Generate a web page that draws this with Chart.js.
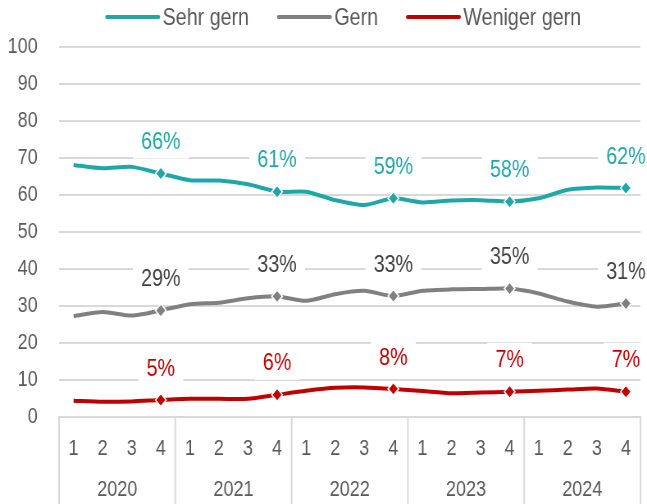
<!DOCTYPE html>
<html>
<head>
<meta charset="utf-8">
<script src="https://cdn.jsdelivr.net/npm/chart.js@4/dist/chart.umd.min.js"></script>
<style>
  html, body { margin: 0; padding: 0; background: #fff; overflow: hidden; width: 647px; height: 504px; }
  /* Arial Narrow ist nicht installiert: Liberation Sans horizontal auf 82 % stauchen */
  #wrap { width: 789px; height: 504px; transform: scaleX(0.82003); transform-origin: 0 0; }
</style>
</head>
<body>
<div id="wrap"><canvas id="chart"></canvas></div>
<script>
// Daten (Quartale 2020-2024)
const years = ['2020', '2021', '2022', '2023', '2024'];
const quarters = ['1', '2', '3', '4'];
const yTicks = [0, 10, 20, 30, 40, 50, 60, 70, 80, 90, 100];

const sehrGern = [68.1, 67.2, 67.6, 65.8, 64.0, 63.9, 62.9, 60.9, 60.9, 58.6, 57.3, 59.1, 58.0, 58.5, 58.6, 58.2, 59.1, 61.4, 62.0, 61.9];
const gern = [27.3, 28.4, 27.4, 28.8, 30.5, 30.9, 32.1, 32.6, 31.4, 33.2, 34.1, 32.7, 34.1, 34.5, 34.6, 34.7, 33.4, 31.2, 29.8, 30.7];
const wenigerGern = [4.4, 4.1, 4.2, 4.6, 4.9, 4.9, 4.9, 6.0, 7.1, 7.9, 8.0, 7.6, 7.0, 6.4, 6.6, 6.8, 7.1, 7.4, 7.7, 6.8];

const labels = years.flatMap(() => quarters);

const FONT = "'Liberation Sans', Arial, sans-serif";
const TEAL = '#1fa7a7';
const GRAY = '#808080';
const RED = '#c00000';
const GRID = '#d9d9d9';
const TEXT = '#595959';

// nur Q4 bekommt eine Raute
const q4Radius = ctx => (ctx.dataIndex % 4 === 3 ? 6.5 : 0);

function series(label, data, color, textColor) {
  return {
    label,
    data,
    borderColor: color,
    backgroundColor: color,
    borderWidth: 4,
    tension: 0.25,
    pointStyle: 'rectRot',
    pointRadius: q4Radius,
    pointHoverRadius: q4Radius,
    pointBorderColor: '#fff',
    pointBorderWidth: 1.5,
    pointBackgroundColor: color,
    labelColor: textColor,
  };
}

// Prozentwerte über den Q4-Punkten, mit weißem Hintergrund
const valueLabels = {
  id: 'valueLabels',
  beforeDatasetsDraw(chart) {
    const ctx = chart.ctx;
    ctx.save();
    ctx.font = '24px ' + FONT;
    ctx.textAlign = 'center';
    ctx.textBaseline = 'middle';
    chart.data.datasets.forEach((ds, i) => {
      const meta = chart.getDatasetMeta(i);
      meta.data.forEach((pt, j) => {
        if (j % 4 !== 3) return;
        const text = Math.round(ds.data[j]) + '%';
        const w = ctx.measureText(text).width;
        const y = pt.y - 32;
        ctx.fillStyle = '#fff';
        ctx.fillRect(pt.x - w / 2 - 10, y - 17, w + 20, 34);
        ctx.fillStyle = ds.labelColor;
        ctx.fillText(text, pt.x, y + 1);
      });
    });
    ctx.restore();
  }
};

// Legende oben: Linie + Text, etwa über der Zeichenfläche zentriert
const lineLegend = {
  id: 'lineLegend',
  afterDraw(chart) {
    const ctx = chart.ctx;
    const lineLen = 67, gap = 3, spacing = 34, y = 17;
    ctx.save();
    ctx.font = '24px ' + FONT;
    ctx.textBaseline = 'middle';
    const items = chart.data.datasets.map(ds => ({ ds, w: ctx.measureText(ds.label).width }));
    const total = items.reduce((s, it) => s + lineLen + gap + it.w, 0) + spacing * (items.length - 1);
    let x = (chart.chartArea.left + chart.chartArea.right) / 2 - total / 2 - 8;
    items.forEach(({ ds, w }) => {
      ctx.strokeStyle = ds.borderColor;
      ctx.lineWidth = 4;
      ctx.lineCap = 'round';
      ctx.beginPath();
      ctx.moveTo(x + 2, y);
      ctx.lineTo(x + lineLen - 2, y);
      ctx.stroke();
      ctx.fillStyle = TEXT;
      ctx.fillText(ds.label, x + lineLen + gap, y + 1);
      x += lineLen + gap + w + spacing;
    });
    ctx.restore();
  }
};

// senkrechte Trennlinien zwischen den Jahren unter der Achse
const yearSeparators = {
  id: 'yearSeparators',
  afterDraw(chart) {
    const xs = chart.scales.x;
    const ctx = chart.ctx;
    const n = chart.data.labels.length;
    ctx.save();
    ctx.strokeStyle = GRID;
    ctx.lineWidth = 2;
    for (let b = 0; b <= n; b += quarters.length) {
      let px;
      if (b === 0) px = xs.left;
      else if (b === n) px = xs.right;
      else px = (xs.getPixelForValue(b - 1) + xs.getPixelForValue(b)) / 2;
      ctx.beginPath();
      ctx.moveTo(px, chart.chartArea.bottom);
      ctx.lineTo(px, chart.height);
      ctx.stroke();
    }
    ctx.restore();
  }
};

new Chart(document.getElementById('chart'), {
  type: 'line',
  data: {
    labels,
    datasets: [
      series('Sehr gern', sehrGern, TEAL, TEAL),
      series('Gern', gern, GRAY, '#404040'),
      series('Weniger gern', wenigerGern, RED, RED),
    ],
  },
  options: {
    responsive: true,
    maintainAspectRatio: false,
    animation: false,
    layout: { padding: { left: 0, right: 5, top: 47, bottom: 0 } },
    plugins: {
      legend: { display: false },
      tooltip: { enabled: false },
    },
    scales: {
      y: {
        min: 0,
        max: 100,
        afterBuildTicks: scale => { scale.ticks = yTicks.map(v => ({ value: v })); },
        afterFit: scale => { scale.width = 72; },
        grid: { color: GRID, lineWidth: 2, drawTicks: false },
        border: { display: false },
        ticks: {
          color: TEXT,
          padding: 26,
          font: { family: FONT, size: 22 },
        },
      },
      x: {
        offset: true,
        afterFit: scale => { scale.height = 46; },
        grid: { display: false },
        border: { display: true, color: GRID, width: 2 },
        ticks: {
          color: TEXT,
          padding: 11,
          maxRotation: 0,
          autoSkip: false,
          font: { family: FONT, size: 22 },
        },
      },
      x2: {
        type: 'category',
        position: 'bottom',
        labels: years,
        offset: true,
        afterFit: scale => { scale.height = 41; },
        grid: { display: false },
        border: { display: false },
        ticks: {
          color: TEXT,
          padding: 6,
          maxRotation: 0,
          font: { family: FONT, size: 22 },
        },
      },
    },
  },
  plugins: [valueLabels, yearSeparators, lineLegend],
});
</script>
</body>
</html>
